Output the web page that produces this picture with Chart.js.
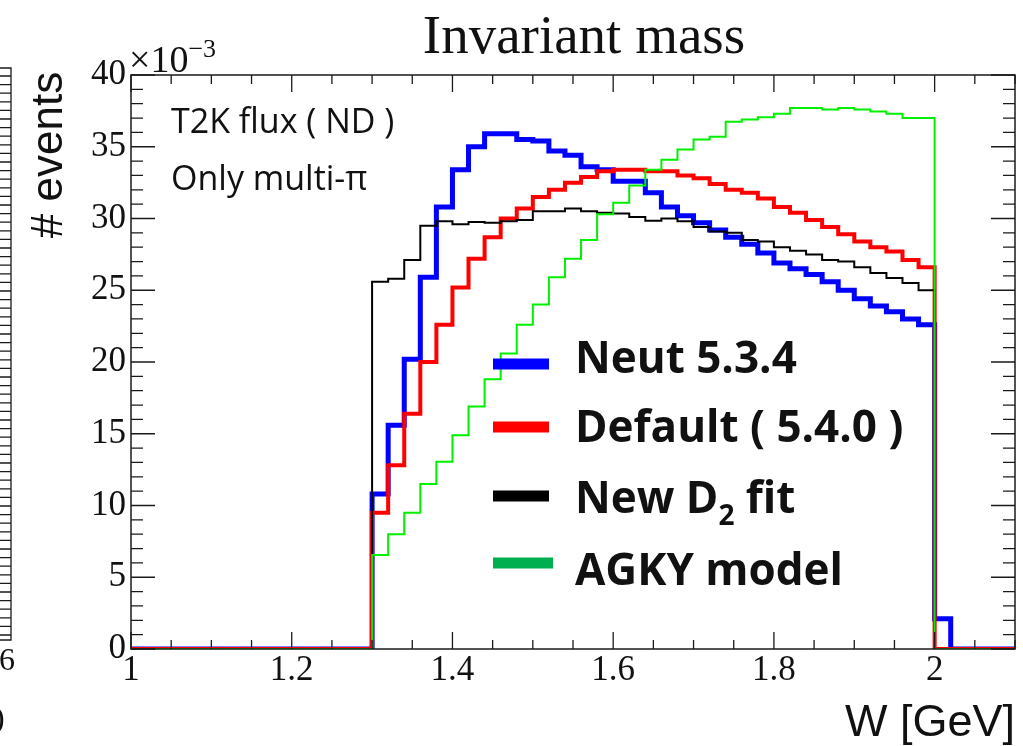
<!DOCTYPE html>
<html>
<head>
<meta charset="utf-8">
<script src="https://cdn.jsdelivr.net/npm/chart.js@4"></script>
<style>
  body { margin: 0; background: #fff; }
  canvas { display: block; }
</style>
</head>
<body>
<canvas id="wChart" width="1023" height="746"></canvas>
<script>
  // left edges of the filled W bins [GeV], last entry closes the 2.00-2.02 bin
  const binEdges = [
    1.30, 1.32, 1.34, 1.36, 1.38, 1.40, 1.42, 1.44, 1.46, 1.48,
    1.50, 1.52, 1.54, 1.56, 1.58, 1.60, 1.62, 1.64, 1.66, 1.68,
    1.70, 1.72, 1.74, 1.76, 1.78, 1.80, 1.82, 1.84, 1.86, 1.88,
    1.90, 1.92, 1.94, 1.96, 1.98, 2.00, 2.02
  ];

  // bin contents in units of 1e-3
  const neut534 = [
    10.8, 15.6, 20.2, 25.9, 30.8, 33.4, 35.0, 35.9, 35.9, 35.5,
    35.4, 34.7, 34.4, 33.6, 33.4, 32.6, 32.6, 31.8, 30.8, 30.2,
    29.7, 29.2, 28.7, 28.2, 27.6, 26.9, 26.5, 26.1, 25.6, 25.0,
    24.4, 23.9, 23.5, 23.0, 22.6, 2.1
  ];
  const default540 = [
    9.5, 12.8, 16.4, 20.0, 22.6, 25.2, 27.2, 28.7, 30.0, 30.7,
    31.5, 32.0, 32.5, 32.9, 33.3, 33.4, 33.4, 33.3, 33.3, 33.0,
    32.8, 32.4, 32.0, 31.8, 31.4, 30.8, 30.4, 29.9, 29.4, 28.9,
    28.4, 28.0, 27.7, 27.1, 26.6, 0
  ];
  const newD2fit = [
    25.6, 25.8, 27.1, 29.5, 29.8, 29.6, 29.75, 29.7, 29.8, 29.9,
    30.5, 30.5, 30.7, 30.5, 30.4, 30.35, 30.1, 29.85, 30.0, 29.8,
    29.4, 29.1, 29.0, 28.5, 28.4, 28.0, 27.75, 27.5, 27.1, 27.0,
    26.6, 26.2, 25.85, 25.5, 25.0, 0
  ];
  const agkyModel = [
    6.55, 8.0, 9.5, 11.5, 13.05, 14.9, 16.9, 18.8, 20.6, 22.6,
    24.0, 25.9, 27.2, 28.5, 30.3, 31.1, 32.3, 33.4, 34.1, 34.8,
    35.5, 35.7, 36.75, 36.9, 37.05, 37.3, 37.7, 37.7, 37.6, 37.7,
    37.6, 37.45, 37.3, 37.0, 37.0, 0
  ];

  const xMin = 1.0, xMax = 2.1;
  const yMin = 0, yMax = 40;

  // turn bin contents into a step outline (points on left bin edges)
  function histPoints(vals) {
    const pts = [{ x: xMin, y: 0 }];
    vals.forEach((v, i) => pts.push({ x: binEdges[i], y: v }));
    pts.push({ x: binEdges[binEdges.length - 1], y: 0 });
    pts.push({ x: xMax, y: 0 });
    return pts;
  }

  const legendItems = [
    { text: 'Neut 5.3.4', color: '#0000ff' },
    { text: 'Default ( 5.4.0 )', color: '#ff0000' },
    { text: 'New D', sub: '2', tail: ' fit', color: '#000000' },
    { text: 'AGKY model', color: '#00b050' }
  ];

  // ROOT-like frame, inward ticks, labels and legend
  const rootDecor = {
    id: 'rootDecor',
    afterDraw(chart) {
      const { ctx, chartArea: a } = chart;
      const xs = chart.scales.x, ys = chart.scales.y;
      ctx.save();

      ctx.strokeStyle = '#1a1a1a';
      ctx.lineWidth = 1.5;
      ctx.strokeRect(a.left, a.top, a.right - a.left, a.bottom - a.top);

      ctx.lineWidth = 1.3;
      ctx.beginPath();
      for (let i = 0; i <= 22; i++) {
        const px = xs.getPixelForValue(xMin + i * 0.05);
        const len = i % 4 === 0 ? 17 : 9;
        ctx.moveTo(px, a.bottom); ctx.lineTo(px, a.bottom - len);
        ctx.moveTo(px, a.top); ctx.lineTo(px, a.top + len);
      }
      for (let v = yMin; v <= yMax; v++) {
        const py = ys.getPixelForValue(v);
        const len = v % 5 === 0 ? 24 : 12;
        ctx.moveTo(a.left, py); ctx.lineTo(a.left + len, py);
        ctx.moveTo(a.right, py); ctx.lineTo(a.right - len, py);
      }
      ctx.stroke();

      // fragment of the neighbouring pad on the left
      ctx.beginPath();
      ctx.moveTo(0, 68); ctx.lineTo(11, 68); ctx.lineTo(11, 640); ctx.lineTo(0, 640);
      for (let py = 76; py < 640; py += 8.6) {
        ctx.moveTo(0, py); ctx.lineTo(11, py);
      }
      ctx.stroke();
      ctx.fillStyle = '#111';
      ctx.font = '32px "Liberation Serif"';
      ctx.textAlign = 'left';
      ctx.fillText('6', -1, 670);
      ctx.fillText(')', -6, 728);

      // title
      ctx.font = '55px "Liberation Serif"';
      ctx.textAlign = 'center';
      ctx.fillText('Invariant mass', 584, 53);

      // exponent
      ctx.textAlign = 'left';
      ctx.font = '38px "Liberation Serif"';
      ctx.fillText('\u00d710', 129, 72);
      const w10 = ctx.measureText('\u00d710').width;
      ctx.font = '26px "Liberation Serif"';
      ctx.fillText('\u22123', 129 + w10, 57);

      // axis titles
      ctx.font = '44px "Liberation Sans"';
      ctx.save();
      ctx.translate(62, 155);
      ctx.rotate(-Math.PI / 2);
      ctx.textAlign = 'center';
      ctx.fillText('# events', 0, 0);
      ctx.restore();
      ctx.textAlign = 'right';
      ctx.font = '45px "Liberation Sans"';
      ctx.fillText('W [GeV]', 1015, 736);

      // annotations
      ctx.textAlign = 'left';
      ctx.font = '34px "Open Sans"';
      ctx.fillText('T2K flux ( ND )', 171, 133);
      ctx.fillText('Only multi-\u03c0', 171, 190);

      // legend
      const lineY = [364, 427, 496, 563];
      const textY = [373, 442, 513, 585];
      legendItems.forEach((it, i) => {
        ctx.strokeStyle = it.color;
        ctx.lineWidth = 11;
        ctx.beginPath();
        ctx.moveTo(493, lineY[i]);
        ctx.lineTo(i === 3 ? 553 : 549, lineY[i]);
        ctx.stroke();
        ctx.fillStyle = '#111';
        ctx.font = 'bold 44px "Open Sans"';
        let tx = 575;
        ctx.fillText(it.text, tx, textY[i]);
        if (it.sub) {
          tx += ctx.measureText(it.text).width;
          ctx.font = 'bold 28px "Open Sans"';
          ctx.fillText(it.sub, tx, textY[i] + 12);
          tx += ctx.measureText(it.sub).width;
          ctx.font = 'bold 44px "Open Sans"';
          ctx.fillText(it.tail, tx, textY[i]);
        }
      });
      ctx.restore();
    }
  };

  const lineDefaults = { stepped: true, pointRadius: 0, fill: false, tension: 0 };

  const config = {
    type: 'line',
    data: {
      datasets: [
        { ...lineDefaults, label: 'Neut 5.3.4', data: histPoints(neut534), borderColor: '#0000ff', borderWidth: 5, order: 4 },
        { ...lineDefaults, label: 'Default ( 5.4.0 )', data: histPoints(default540), borderColor: '#ff0000', borderWidth: 4, order: 3 },
        { ...lineDefaults, label: 'New D2 fit', data: histPoints(newD2fit), borderColor: '#000000', borderWidth: 2, order: 2 },
        { ...lineDefaults, label: 'AGKY model', data: histPoints(agkyModel), borderColor: '#00f000', borderWidth: 2, order: 1 }
      ]
    },
    options: {
      responsive: false,
      animation: false,
      layout: { padding: { left: 0, right: 8, top: 75, bottom: 0 } },
      plugins: {
        legend: { display: false },
        tooltip: { enabled: false },
        title: { display: false }
      },
      scales: {
        x: {
          type: 'linear',
          min: xMin,
          max: xMax,
          grid: { display: false, drawTicks: false },
          border: { display: false },
          ticks: {
            stepSize: 0.2,
            includeBounds: false,
            autoSkip: false,
            maxRotation: 0,
            padding: 1,
            color: '#111',
            font: { family: 'Liberation Serif', size: 35 },
            callback: (v) => String(+v.toFixed(1))
          },
          afterFit: (scale) => { scale.height = 97; }
        },
        y: {
          min: yMin,
          max: yMax,
          grid: { display: false, drawTicks: false },
          border: { display: false },
          ticks: {
            stepSize: 5,
            padding: 5,
            color: '#111',
            font: { family: 'Liberation Serif', size: 35 }
          },
          afterFit: (scale) => { scale.width = 131; }
        }
      }
    },
    plugins: [rootDecor]
  };

  const wChart = new Chart(document.getElementById('wChart'), config);
</script>
</body>
</html>
